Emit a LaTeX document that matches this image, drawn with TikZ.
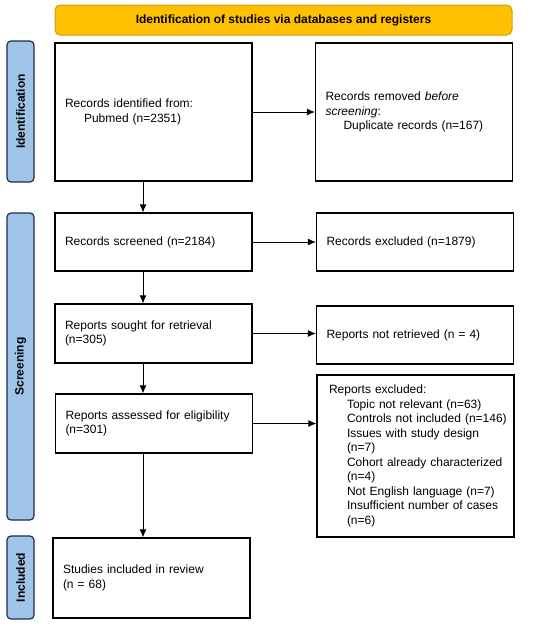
\documentclass[tikz,border=0pt]{standalone}
\usepackage{fontspec}
\setmainfont{Liberation Sans}
\usetikzlibrary{arrows.meta}
\definecolor{hdrfill}{RGB}{255,192,0}
\definecolor{hdrline}{RGB}{200,160,20}
\definecolor{sidefill}{RGB}{160,196,232}
\definecolor{sideline}{RGB}{30,45,70}
\begin{document}
\begin{tikzpicture}[x=1pt,y=-1pt,
  every node/.style={font=\fontsize{12pt}{14.5pt}\selectfont},
  box/.style={draw=black, line width=1.2pt, rectangle, align=left, inner xsep=10pt, inner ysep=2pt, text width=#1},
  box/.default=177pt,
  side/.style={draw=sideline, fill=sidefill, line width=1.2pt, rounded corners=4pt, rotate=90,
     minimum height=27pt, inner sep=0pt, font=\fontsize{12pt}{14.5pt}\selectfont\bfseries},
  arr/.style={line width=0.9pt, -{Latex[length=8pt,width=7pt]}}]
\useasboundingbox (0,0) rectangle (550,627);
% header
\node[draw=hdrline, fill=hdrfill, line width=1pt, rounded corners=5pt, minimum width=457pt, minimum height=30pt,
  inner sep=0pt, font=\fontsize{12pt}{14.5pt}\selectfont\bfseries] (hdr) at (283.5,20) {Identification of studies via databases and registers};
% side labels
\node[side, minimum width=141pt] (sid) at (20.5,111.5) {Identification};
\node[side, minimum width=307pt] (sscr) at (20.5,366.5) {Screening};
\node[side, minimum width=83pt] (sinc) at (20.5,577.5) {Included};
% boxes
\node[box, minimum height=138pt] (b1) at (153.5,112) {Records identified from:\\\hspace*{19pt}Pubmed (n=2351)};
\node[box, minimum height=138pt] (b2) at (414,112) {Records removed \textit{before screening}:\\\hspace*{18pt}Duplicate records (n=167)};
\node[box, minimum height=58pt] (b3) at (153.5,242) {Records screened (n=2184)};
\node[box, minimum height=58pt] (b4) at (415,242) {Records excluded (n=1879)};
\node[box, minimum height=59pt] (b5) at (153.5,333.5) {Reports sought for retrieval\\(n=305)};
\node[box, minimum height=58pt] (b6) at (415,335) {Reports not retrieved (n = 4)};
\node[box, minimum height=59pt] (b7) at (154,423.5) {Reports assessed for eligibility\\(n=301)};
\node[box=189pt, inner xsep=4pt, minimum height=162pt] (b8) at (415.5,456) {\hspace*{8pt}Reports excluded:\\
\hspace*{26pt}Topic not relevant (n=63)\\
\hspace*{26pt}Controls not included (n=146)\\
\hspace*{26pt}Issues with study design\\
\hspace*{26pt}(n=7)\\
\hspace*{26pt}Cohort already characterized\\
\hspace*{26pt}(n=4)\\
\hspace*{26pt}Not English language (n=7)\\
\hspace*{26pt}Insufficient number of cases\\
\hspace*{26pt}(n=6)};
\node[box, minimum height=80pt] (b9) at (151.5,578) {Studies included in review\\(n = 68)};
% connectors
\coordinate (vx) at (143,0);
\draw[arr] (b1.east) -- (b1.east -| b2.west);
\draw[arr] (b3.east) -- (b3.east -| b4.west);
\draw[arr] (b5.east) -- (b5.east -| b6.west);
\draw[arr] (b7.east) -- (b7.east -| b8.west);
\draw[arr] (b1.south -| vx) -- (b3.north -| vx);
\draw[arr] (b3.south -| vx) -- (b5.north -| vx);
\draw[arr] (b5.south -| vx) -- (b7.north -| vx);
\draw[arr] (b7.south -| vx) -- (b9.north -| vx);
\end{tikzpicture}
\end{document}
